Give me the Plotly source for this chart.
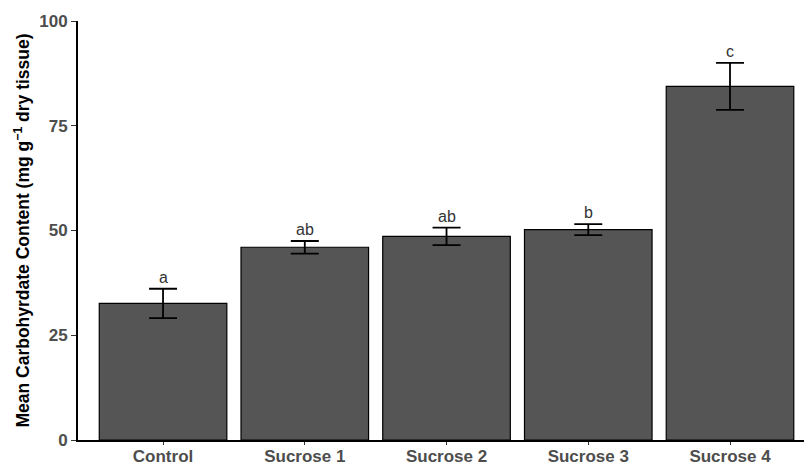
import plotly.graph_objects as go

# Treatment groups and measured carbohydrate content
groups = ["Control", "Sucrose 1", "Sucrose 2", "Sucrose 3", "Sucrose 4"]
means = [32.6, 46.0, 48.6, 50.2, 84.4]
errors = [3.5, 1.5, 2.1, 1.3, 5.6]
letters = ["a", "ab", "ab", "b", "c"]
y_ticks = [0, 25, 50, 75, 100]

FONT = "Liberation Sans, Arial"

fig = go.Figure()
fig.add_trace(go.Bar(
    x=groups,
    y=means,
    width=0.9,
    marker=dict(color="#555555", line=dict(color="#000000", width=1.2)),
    error_y=dict(type="data", array=errors, visible=True,
                 color="#000000", thickness=1.8, width=14),
    showlegend=False,
))

# Significance letters above each error bar
for g, m, e, lab in zip(groups, means, errors, letters):
    fig.add_annotation(x=g, y=m + e, text=lab, showarrow=False,
                       yanchor="bottom", yshift=1,
                       font=dict(family=FONT, size=16, color="#333333"))

fig.update_layout(
    width=804, height=465,
    margin=dict(l=78, r=0, t=21, b=25),
    plot_bgcolor="white", paper_bgcolor="white",
    bargap=0.1,
)
fig.update_xaxes(
    range=[-0.6, 4.522],
    showline=True, linecolor="#000000", linewidth=2,
    ticks="outside", ticklen=3, tickcolor="#333333",
    tickfont=dict(family=FONT, size=17, color="#4D4D4D", weight="bold"),
    ticklabelstandoff=-3,
    showgrid=False, zeroline=False, automargin=False,
)
fig.update_yaxes(
    range=[0, 100],
    tickvals=y_ticks,
    showline=True, linecolor="#000000", linewidth=2,
    ticks="outside", ticklen=5, tickcolor="#333333",
    tickfont=dict(family=FONT, size=17, color="#4D4D4D", weight="bold"),
    title=dict(text="Mean Carbohyrdate Content (mg g<sup>−1</sup> dry tissue)",
               font=dict(family=FONT, size=17.5, color="#000000", weight="bold"),
               standoff=5),
    showgrid=False, zeroline=False, automargin=False,
)

fig.write_html("out.html")
